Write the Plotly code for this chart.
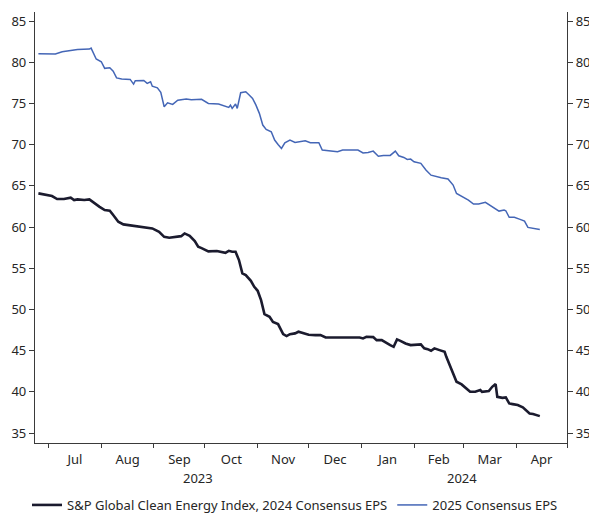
import plotly.graph_objects as go

# ---- data ----
eps2024_dates = [
    "2023-06-25", "2023-06-29", "2023-07-03", "2023-07-06", "2023-07-10", "2023-07-14",
    "2023-07-16", "2023-07-18", "2023-07-22", "2023-07-25", "2023-07-28", "2023-07-31",
    "2023-08-03", "2023-08-06", "2023-08-08", "2023-08-11", "2023-08-14", "2023-08-19",
    "2023-08-23", "2023-08-27", "2023-08-31", "2023-09-04", "2023-09-07", "2023-09-10",
    "2023-09-14", "2023-09-17", "2023-09-19", "2023-09-22", "2023-09-25", "2023-09-27",
    "2023-09-29", "2023-10-03", "2023-10-08", "2023-10-13", "2023-10-15", "2023-10-17",
    "2023-10-19", "2023-10-21", "2023-10-23", "2023-10-25", "2023-10-28", "2023-10-30",
    "2023-11-01", "2023-11-03", "2023-11-05", "2023-11-08", "2023-11-10", "2023-11-13",
    "2023-11-16", "2023-11-18", "2023-11-20", "2023-11-23", "2023-11-25", "2023-11-28",
    "2023-12-01", "2023-12-05", "2023-12-08", "2023-12-11", "2023-12-15", "2023-12-20",
    "2023-12-24", "2023-12-28", "2023-12-31", "2024-01-02", "2024-01-04", "2024-01-08",
    "2024-01-10", "2024-01-13", "2024-01-15", "2024-01-18", "2024-01-20", "2024-01-22",
    "2024-01-24", "2024-01-27", "2024-01-30", "2024-02-03", "2024-02-05", "2024-02-07",
    "2024-02-09", "2024-02-11", "2024-02-13", "2024-02-16", "2024-02-19", "2024-02-20",
    "2024-02-22", "2024-02-24", "2024-02-26", "2024-02-29", "2024-03-03", "2024-03-05",
    "2024-03-08", "2024-03-11", "2024-03-12", "2024-03-16", "2024-03-18", "2024-03-20",
    "2024-03-21", "2024-03-24", "2024-03-26", "2024-03-28", "2024-03-30", "2024-04-02",
    "2024-04-05", "2024-04-07", "2024-04-09", "2024-04-11", "2024-04-13", "2024-04-15",
]
eps2024_values = [
    64.09, 63.88, 63.76, 63.40, 63.40, 63.56,
    63.28, 63.36, 63.28, 63.36, 62.87, 62.46,
    62.06, 61.98, 61.46, 60.65, 60.33, 60.16,
    60.04, 59.96, 59.84, 59.43, 58.82, 58.70,
    58.82, 58.90, 59.23, 58.94, 58.30, 57.61,
    57.45, 57.05, 57.09, 56.88, 57.12, 57.00,
    57.00, 56.00, 54.38, 54.17, 53.48, 52.75,
    52.27, 51.14, 49.44, 49.11, 48.50, 48.23,
    47.01, 46.77, 47.01, 47.10, 47.30, 47.10,
    46.93, 46.89, 46.89, 46.61, 46.57, 46.61,
    46.61, 46.57, 46.61, 46.49, 46.69, 46.65,
    46.28, 46.28, 46.08, 45.68, 45.47, 46.37,
    46.20, 45.88, 45.68, 45.68, 45.76, 45.28,
    45.19, 44.99, 45.28, 45.07, 44.87, 44.26,
    43.25, 42.44, 41.23, 40.91, 40.42, 40.01,
    40.01, 40.22, 40.01, 40.10, 40.62, 40.95,
    39.40, 39.28, 39.33, 38.60, 38.52, 38.40,
    38.12, 37.79, 37.39, 37.31, 37.18, 37.06,
]

eps2025_dates = [
    "2023-06-25", "2023-07-01", "2023-07-05", "2023-07-09", "2023-07-13", "2023-07-18",
    "2023-07-25", "2023-07-26", "2023-07-29", "2023-08-01", "2023-08-03", "2023-08-06",
    "2023-08-08", "2023-08-10", "2023-08-13", "2023-08-18", "2023-08-20", "2023-08-21",
    "2023-08-26", "2023-08-28", "2023-08-30", "2023-08-31", "2023-09-03", "2023-09-05",
    "2023-09-07", "2023-09-09", "2023-09-12", "2023-09-15", "2023-09-20", "2023-09-23",
    "2023-09-29", "2023-10-03", "2023-10-09", "2023-10-13", "2023-10-15", "2023-10-16",
    "2023-10-17", "2023-10-19", "2023-10-20", "2023-10-22", "2023-10-25", "2023-10-27",
    "2023-10-29", "2023-10-31", "2023-11-02", "2023-11-04", "2023-11-06", "2023-11-09",
    "2023-11-11", "2023-11-13", "2023-11-15", "2023-11-17", "2023-11-20", "2023-11-23",
    "2023-11-26", "2023-11-29", "2023-12-02", "2023-12-07", "2023-12-09", "2023-12-13",
    "2023-12-18", "2023-12-21", "2023-12-26", "2023-12-30", "2024-01-02", "2024-01-05",
    "2024-01-08", "2024-01-11", "2024-01-14", "2024-01-18", "2024-01-21", "2024-01-23",
    "2024-01-26", "2024-01-28", "2024-01-30", "2024-02-01", "2024-02-05", "2024-02-08",
    "2024-02-11", "2024-02-14", "2024-02-17", "2024-02-21", "2024-02-24", "2024-02-26",
    "2024-02-29", "2024-03-04", "2024-03-07", "2024-03-10", "2024-03-14", "2024-03-16",
    "2024-03-19", "2024-03-22", "2024-03-25", "2024-03-26", "2024-03-28", "2024-03-31",
    "2024-04-03", "2024-04-06", "2024-04-08", "2024-04-12", "2024-04-15",
]
eps2025_values = [
    81.03, 80.96, 81.00, 81.27, 81.44, 81.56,
    81.60, 81.72, 80.40, 80.06, 79.26, 79.33,
    78.93, 78.10, 77.96, 77.92, 77.35, 77.76,
    77.80, 77.44, 77.64, 77.10, 76.90, 76.35,
    74.60, 75.08, 74.89, 75.40, 75.53, 75.45,
    75.50, 75.00, 74.93, 74.68, 74.52, 74.80,
    74.40, 74.93, 74.40, 76.30, 76.42, 76.02,
    75.62, 74.80, 73.80, 72.38, 71.86, 71.57,
    70.56, 70.03, 69.55, 70.23, 70.56, 70.28,
    70.36, 70.47, 70.23, 70.23, 69.34, 69.26,
    69.14, 69.34, 69.34, 69.34, 69.00, 69.06,
    69.22, 68.60, 68.70, 68.70, 69.22, 68.65,
    68.45, 68.20, 68.25, 67.92, 67.73, 66.92,
    66.30, 66.10, 65.98, 65.83, 65.10, 64.08,
    63.76, 63.27, 62.79, 62.79, 63.00, 62.75,
    62.34, 61.94, 62.06, 61.98, 61.18, 61.18,
    60.97, 60.73, 59.96, 59.84, 59.72,
]

series_names = ["S&P Global Clean Energy Index, 2024 Consensus EPS", "2025 Consensus EPS"]
y_ticks = [35, 40, 45, 50, 55, 60, 65, 70, 75, 80, 85]
year_labels = ["2023", "2024"]
year_label_dates = ["2023-09-27", "2024-02-29"]

FONT = "Noto Sans"
TXT = "#262626"
AX = "#3a3a3a"
Y_RANGE = [33.8, 86.1]

fig = go.Figure()
fig.add_trace(go.Scatter(
    x=eps2024_dates, y=eps2024_values, mode="lines", name=series_names[0],
    line=dict(color="#1b1b2e", width=2.6), yaxis="y",
))
fig.add_trace(go.Scatter(
    x=eps2025_dates, y=eps2025_values, mode="lines", name=series_names[1],
    line=dict(color="#4466b6", width=1.5), yaxis="y2",
))

for lbl, d in zip(year_labels, year_label_dates):
    fig.add_annotation(x=d, xref="x", y=-0.081, yref="paper", text=lbl,
                       showarrow=False, yanchor="middle", xanchor="center",
                       font=dict(family=FONT, size=13, color=TXT))

yax = dict(range=Y_RANGE, tickvals=y_ticks, showgrid=False, zeroline=False,
           showline=True, linecolor=AX, linewidth=1.2, ticks="outside",
           ticklen=5, tickcolor=AX, automargin=False,
           tickfont=dict(family=FONT, size=13, color=TXT))

# the page body adds an 8px offset, so the margins are reduced accordingly
fig.update_layout(
    width=597, height=520,
    margin=dict(l=27, r=38, t=4, b=85),
    paper_bgcolor="white", plot_bgcolor="white",
    font=dict(family=FONT, size=13, color=TXT),
    showlegend=True,
    legend=dict(orientation="h", x=-0.015, xanchor="left", y=-0.109, yanchor="top",
                font=dict(family=FONT, size=13, color=TXT), itemwidth=30,
                tracegroupgap=0, bgcolor="rgba(0,0,0,0)"),
    xaxis=dict(type="date", range=["2023-06-23", "2024-05-01"],
               tick0="2023-07-01", dtick="M1", tickformat="%b", ticklabelmode="period",
               showgrid=False, zeroline=False, showline=True, linecolor=AX, linewidth=1.2,
               ticks="outside", ticklen=4, tickcolor=AX, automargin=False,
               tickfont=dict(family=FONT, size=13, color=TXT)),
    yaxis=dict(side="left", **yax),
    yaxis2=dict(side="right", overlaying="y", **yax),
)

fig.write_html("out.html")
